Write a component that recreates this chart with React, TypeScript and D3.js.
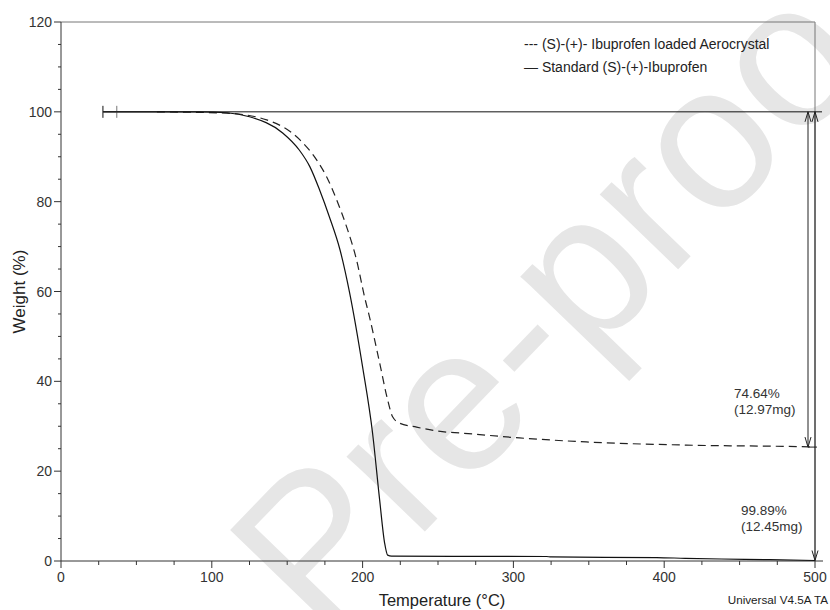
import * as d3 from 'd3';
import React from 'react';

// data (temperature °C, weight %)
const standardT = [28, 92, 110, 125, 147, 158, 165, 171.5, 178, 185, 191.4, 200, 206.6, 211.3, 214.6, 216.6, 219.2, 260, 322, 325, 395, 414, 438, 470, 500];
const standardW = [100, 100, 99.8, 98.9, 95.3, 91.5, 87.8, 82.6, 76.6, 69.3, 59.7, 43.2, 28.5, 13.6, 4.0, 1.3, 1.1, 1.05, 1.0, 0.9, 0.75, 0.6, 0.45, 0.3, 0.11];

const loadedT = [63.6, 110, 136.4, 158.3, 169.5, 176.2, 182.8, 189.4, 196, 201.3, 204.6, 211.3, 216.6, 219.9, 224.5, 235.8, 255.6, 264.2, 304, 348.3, 414.6, 496, 500];
const loadedW = [100, 99.7, 98.2, 93.8, 89.3, 85.5, 80.4, 74.4, 67, 58.8, 54.3, 44.1, 35.9, 32.1, 30.7, 29.8, 28.7, 28.5, 27.4, 26.5, 25.8, 25.4, 25.36];

const xTicks = [0, 100, 200, 300, 400, 500];
const yTicks = [0, 20, 40, 60, 80, 100, 120];
const legendLabels = ['--- (S)-(+)- Ibuprofen loaded Aerocrystal', '\u2014 Standard (S)-(+)-Ibuprofen'];
const stepLabels = [
  { t: 485, w: 100 - 74.64, pct: '74.64%', mg: '(12.97mg)' },
  { t: 500, w: 0.11, pct: '99.89%', mg: '(12.45mg)' },
];

export default function App() {
  const width = 830;
  const height = 610;
  const margin = { top: 22, right: 15, bottom: 49, left: 61 };
  const x = d3.scaleLinear().domain([0, 500]).range([margin.left, width - margin.right]);
  const y = d3.scaleLinear().domain([0, 120]).range([height - margin.bottom, margin.top]);
  const font = 'Liberation Sans, Arial, sans-serif';

  const line = d3
    .line<[number, number]>()
    .x((d) => x(d[0]))
    .y((d) => y(d[1]))
    .curve(d3.curveMonotoneX);

  const standard = line(standardT.map((t, i) => [t, standardW[i]]) as [number, number][]) || '';
  const loaded = line(loadedT.map((t, i) => [t, loadedW[i]]) as [number, number][]) || '';

  const minorX = d3.range(0, 501, 25).filter((v) => v % 100 !== 0);
  const minorY = d3.range(0, 121, 5).filter((v) => v % 20 !== 0);

  const x0 = x(0), x1 = x(500), y0 = y(0), y1 = y(120);
  const arrowX = [x(500) - 7, x(500)];

  const arrowHead = (ax: number, ay: number, dir: number) =>
    `M${ax - 3},${ay - dir * 10}L${ax},${ay}L${ax + 3},${ay - dir * 10}`;

  return (
    <svg width={width} height={height} style={{ position: 'absolute', left: 0, top: 0, background: '#fff' }}>
      {/* watermark */}
      <text
        x={0}
        y={0}
        transform="translate(320,640) rotate(-46)"
        fontFamily={font}
        fontSize={205}
        fill="#e6e6e6"
      >
        Pre-proof
      </text>

      {/* frame */}
      <line x1={x0} x2={x1} y1={y1} y2={y1} stroke="#777" />
      <line x1={x1} x2={x1} y1={y1} y2={y0} stroke="#777" />
      <line x1={x0} x2={x0} y1={y1} y2={y0} stroke="#333" />
      <line x1={x0} x2={x1 + 8} y1={y0} y2={y0} stroke="#333" />

      {/* y ticks */}
      {yTicks.map((v) => (
        <g key={'y' + v}>
          <line x1={x0 - 7} x2={x0} y1={y(v)} y2={y(v)} stroke="#333" />
          <text x={x0 - 9} y={y(v) + 5} textAnchor="end" fontFamily={font} fontSize={14} fill="#333">
            {v}
          </text>
        </g>
      ))}
      {minorY.map((v) => (
        <line key={'my' + v} x1={x0 - 3} x2={x0} y1={y(v)} y2={y(v)} stroke="#333" />
      ))}

      {/* x ticks */}
      {xTicks.map((v) => (
        <g key={'x' + v}>
          <line x1={x(v)} x2={x(v)} y1={y0} y2={y0 + 7} stroke="#333" />
          <text x={x(v)} y={y0 + 21} textAnchor="middle" fontFamily={font} fontSize={14} fill="#333">
            {v}
          </text>
        </g>
      ))}
      {minorX.map((v) => (
        <line key={'mx' + v} x1={x(v)} x2={x(v)} y1={y0} y2={y0 + 4} stroke="#333" />
      ))}

      {/* axis titles */}
      <text
        transform={`translate(25,${(y0 + y1) / 2}) rotate(-90)`}
        textAnchor="middle"
        fontFamily={font}
        fontSize={17}
        fill="#222"
      >
        Weight (%)
      </text>
      <text x={442} y={606} textAnchor="middle" fontFamily={font} fontSize={16.5} fill="#222">
        Temperature (°C)
      </text>
      <text x={828} y={604} textAnchor="end" fontFamily={font} fontSize={11.7} fill="#222">
        Universal V4.5A TA
      </text>

      {/* 100% reference line with markers */}
      <line x1={x(27.8)} x2={x1 + 7} y1={y(100)} y2={y(100)} stroke="#111" />
      <line x1={x(27.8)} x2={x(27.8)} y1={y(100) - 6} y2={y(100) + 6} stroke="#111" />
      <line x1={x(37)} x2={x(37)} y1={y(100) - 6} y2={y(100) + 6} stroke="#777" />

      {/* curves */}
      <path d={loaded} fill="none" stroke="#222" strokeWidth={1.2} strokeDasharray="8,5" />
      <path d={standard} fill="none" stroke="#111" strokeWidth={1.2} />

      {/* weight-loss arrows */}
      {stepLabels.map((s, i) => (
        <g key={'s' + i}>
          <line x1={arrowX[i]} x2={arrowX[i]} y1={y(100)} y2={y(s.w)} stroke="#222" />
          <path d={arrowHead(arrowX[i], y(100), -1)} fill="none" stroke="#222" />
          <path d={arrowHead(arrowX[i], y(s.w), 1)} fill="none" stroke="#222" />
        </g>
      ))}
      <line x1={arrowX[0]} x2={x1 + 2} y1={y(stepLabels[0].w)} y2={y(stepLabels[0].w)} stroke="#222" />

      <text x={734} y={398} fontFamily={font} fontSize={13.5} fill="#333">{stepLabels[0].pct}</text>
      <text x={734} y={414} fontFamily={font} fontSize={13.5} fill="#333">{stepLabels[0].mg}</text>
      <text x={741} y={515} fontFamily={font} fontSize={13.5} fill="#333">{stepLabels[1].pct}</text>
      <text x={741} y={531} fontFamily={font} fontSize={13.5} fill="#333">{stepLabels[1].mg}</text>

      {/* legend */}
      {legendLabels.map((l, i) => (
        <text key={l} x={524} y={49 + i * 23} fontFamily={font} fontSize={14} fill="#222">
          {l}
        </text>
      ))}
    </svg>
  );
}
